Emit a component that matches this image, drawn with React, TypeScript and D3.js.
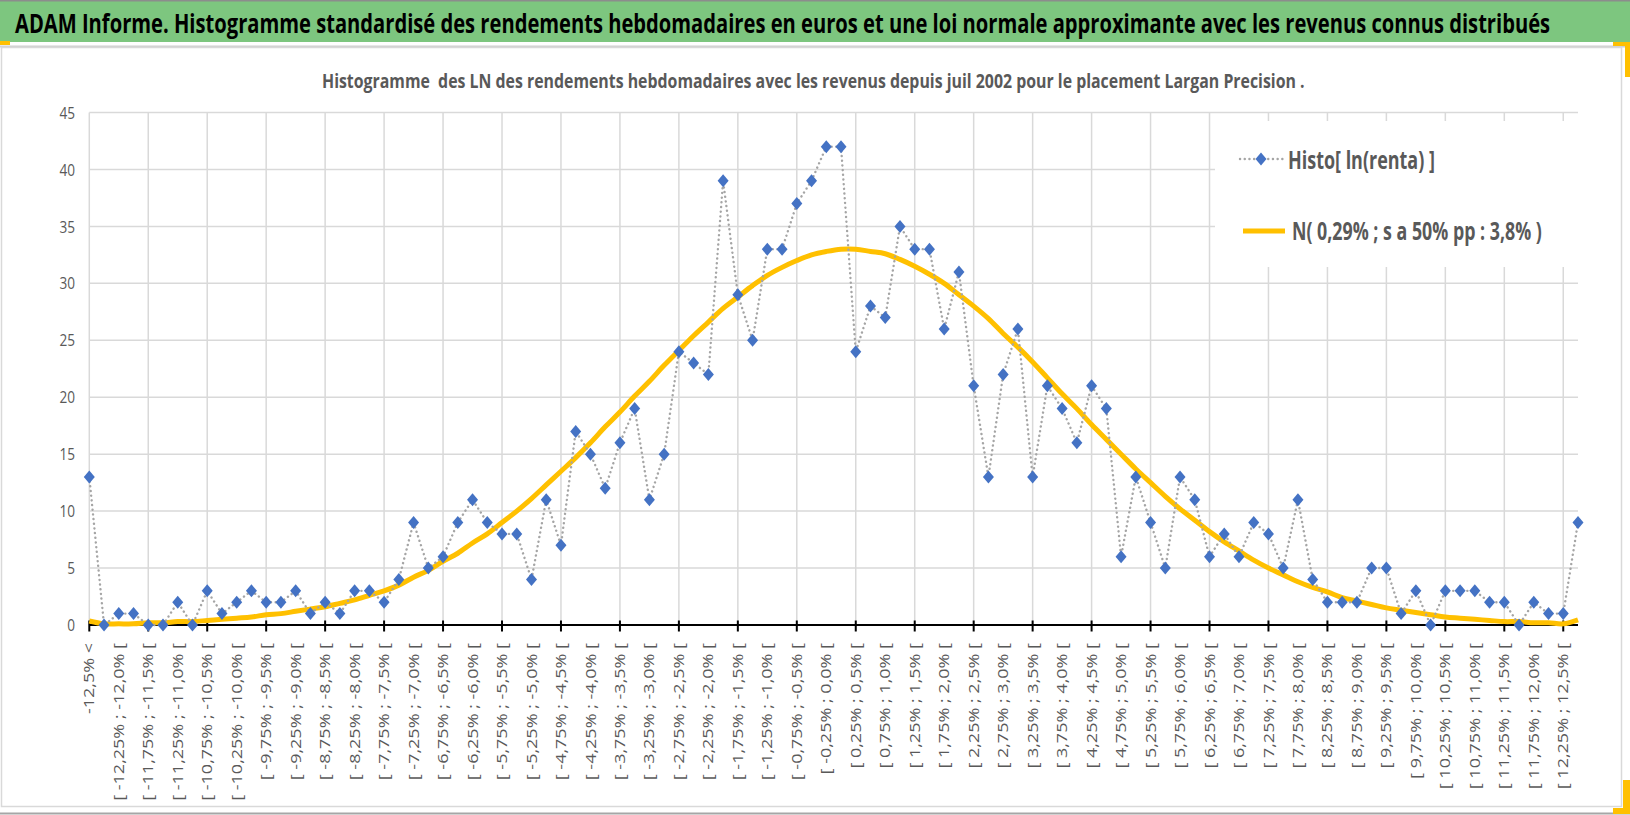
import { useEffect, useRef } from "react";
import * as d3 from "d3";

// categories (classes of weekly log-returns), one every 0,25 %
const categories = [
  "-12,5% <",
  "[ -12,5% ; -12,25% [", "[ -12,25% ; -12,0% [", "[ -12,0% ; -11,75% [", "[ -11,75% ; -11,5% [",
  "[ -11,5% ; -11,25% [", "[ -11,25% ; -11,0% [", "[ -11,0% ; -10,75% [", "[ -10,75% ; -10,5% [",
  "[ -10,5% ; -10,25% [", "[ -10,25% ; -10,0% [", "[ -10,0% ; -9,75% [", "[ -9,75% ; -9,5% [",
  "[ -9,5% ; -9,25% [", "[ -9,25% ; -9,0% [", "[ -9,0% ; -8,75% [", "[ -8,75% ; -8,5% [",
  "[ -8,5% ; -8,25% [", "[ -8,25% ; -8,0% [", "[ -8,0% ; -7,75% [", "[ -7,75% ; -7,5% [",
  "[ -7,5% ; -7,25% [", "[ -7,25% ; -7,0% [", "[ -7,0% ; -6,75% [", "[ -6,75% ; -6,5% [",
  "[ -6,5% ; -6,25% [", "[ -6,25% ; -6,0% [", "[ -6,0% ; -5,75% [", "[ -5,75% ; -5,5% [",
  "[ -5,5% ; -5,25% [", "[ -5,25% ; -5,0% [", "[ -5,0% ; -4,75% [", "[ -4,75% ; -4,5% [",
  "[ -4,5% ; -4,25% [", "[ -4,25% ; -4,0% [", "[ -4,0% ; -3,75% [", "[ -3,75% ; -3,5% [",
  "[ -3,5% ; -3,25% [", "[ -3,25% ; -3,0% [", "[ -3,0% ; -2,75% [", "[ -2,75% ; -2,5% [",
  "[ -2,5% ; -2,25% [", "[ -2,25% ; -2,0% [", "[ -2,0% ; -1,75% [", "[ -1,75% ; -1,5% [",
  "[ -1,5% ; -1,25% [", "[ -1,25% ; -1,0% [", "[ -1,0% ; -0,75% [", "[ -0,75% ; -0,5% [",
  "[ -0,5% ; -0,25% [", "[ -0,25% ; 0,0% [", "[ 0,0% ; 0,25% [", "[ 0,25% ; 0,5% [",
  "[ 0,5% ; 0,75% [", "[ 0,75% ; 1,0% [", "[ 1,0% ; 1,25% [", "[ 1,25% ; 1,5% [",
  "[ 1,5% ; 1,75% [", "[ 1,75% ; 2,0% [", "[ 2,0% ; 2,25% [", "[ 2,25% ; 2,5% [",
  "[ 2,5% ; 2,75% [", "[ 2,75% ; 3,0% [", "[ 3,0% ; 3,25% [", "[ 3,25% ; 3,5% [",
  "[ 3,5% ; 3,75% [", "[ 3,75% ; 4,0% [", "[ 4,0% ; 4,25% [", "[ 4,25% ; 4,5% [",
  "[ 4,5% ; 4,75% [", "[ 4,75% ; 5,0% [", "[ 5,0% ; 5,25% [", "[ 5,25% ; 5,5% [",
  "[ 5,5% ; 5,75% [", "[ 5,75% ; 6,0% [", "[ 6,0% ; 6,25% [", "[ 6,25% ; 6,5% [",
  "[ 6,5% ; 6,75% [", "[ 6,75% ; 7,0% [", "[ 7,0% ; 7,25% [", "[ 7,25% ; 7,5% [",
  "[ 7,5% ; 7,75% [", "[ 7,75% ; 8,0% [", "[ 8,0% ; 8,25% [", "[ 8,25% ; 8,5% [",
  "[ 8,5% ; 8,75% [", "[ 8,75% ; 9,0% [", "[ 9,0% ; 9,25% [", "[ 9,25% ; 9,5% [",
  "[ 9,5% ; 9,75% [", "[ 9,75% ; 10,0% [", "[ 10,0% ; 10,25% [", "[ 10,25% ; 10,5% [",
  "[ 10,5% ; 10,75% [", "[ 10,75% ; 11,0% [", "[ 11,0% ; 11,25% [", "[ 11,25% ; 11,5% [",
  "[ 11,5% ; 11,75% [", "[ 11,75% ; 12,0% [", "[ 12,0% ; 12,25% [", "[ 12,25% ; 12,5% [",
  "12,5% <",
];

// Histo[ ln(renta) ] : counts per class
const histoValues = [
  13, 0, 1, 1, 0, 0, 2, 0, 3, 1,
  2, 3, 2, 2, 3, 1, 2, 1, 3, 3,
  2, 4, 9, 5, 6, 9, 11, 9, 8, 8,
  4, 11, 7, 17, 15, 12, 16, 19, 11, 15,
  24, 23, 22, 39, 29, 25, 33, 33, 37, 39,
  42, 42, 24, 28, 27, 35, 33, 33, 26, 31,
  21, 13, 22, 26, 13, 21, 19, 16, 21, 19,
  6, 13, 9, 5, 13, 11, 6, 8, 6, 9,
  8, 5, 11, 4, 2, 2, 2, 5, 5, 1,
  3, 0, 3, 3, 3, 2, 2, 0, 2, 1,
  1, 9,
];

// N( 0,29% ; 3,8% ) : values
const normalValues = [
  0.35, 0.1, 0.1, 0.1, 0.2, 0.2, 0.3, 0.3, 0.4, 0.5,
  0.6, 0.7, 0.9, 1.0, 1.2, 1.4, 1.6, 1.9, 2.2, 2.6,
  3.0, 3.5, 4.2, 4.8, 5.6, 6.3, 7.2, 8.0, 9.0, 10.0,
  11.1, 12.3, 13.5, 14.7, 16.0, 17.4, 18.7, 20.1, 21.4, 22.8,
  24.1, 25.4, 26.6, 27.8, 28.8, 29.8, 30.7, 31.4, 32.0, 32.5,
  32.8, 33.0, 33.0, 32.8, 32.6, 32.1, 31.5, 30.8, 30.0, 29.0,
  28.0, 26.9, 25.6, 24.4, 23.1, 21.7, 20.3, 19.0, 17.6, 16.3,
  15.0, 13.7, 12.5, 11.3, 10.2, 9.2, 8.2, 7.3, 6.5, 5.7,
  5.0, 4.4, 3.8, 3.3, 2.9, 2.4, 2.1, 1.8, 1.5, 1.3,
  1.1, 0.9, 0.7, 0.6, 0.5, 0.4, 0.3, 0.3, 0.2, 0.2,
  0.1, 0.45,
];

const yTicks = [0, 5, 10, 15, 20, 25, 30, 35, 40, 45];

const title =
  "ADAM Informe. Histogramme standardisé des rendements hebdomadaires en euros et une loi normale approximante avec les revenus connus distribués";
const subtitle =
  "Histogramme  des LN des rendements hebdomadaires avec les revenus depuis juil 2002 pour le placement Largan Precision .";
const legendLabels = ["Histo[ ln(renta) ]", "N( 0,29% ; s a 50% pp : 3,8% )"];

const W = 1630;
const H = 815;
const FONT = "'Open Sans', 'Noto Sans', sans-serif";
const GREY_TEXT = "#595959";
const GRID = "#d9d9d9";
const BLUE = "#4472C4";
const GOLD = "#FFC000";
const DOTS = "#A5A5A5";
const diamond = "M0,-6.5L5.5,0L0,6.5L-5.5,0Z";

type Sel = d3.Selection<SVGSVGElement | SVGGElement, unknown, null, undefined>;

// bold text squeezed horizontally so it spans `len` pixels (the screenshot is narrowed)
const fittedText = (
  parent: Sel,
  str: string,
  x: number,
  y: number,
  len: number,
  size: number,
  fill: string,
) => {
  const t = parent
    .append("text")
    .attr("font-family", FONT)
    .attr("font-weight", 700)
    .attr("font-size", size)
    .attr("fill", fill)
    .attr("xml:space", "preserve")
    .text(str);
  const natural = (t.node() as SVGTextElement).getComputedTextLength() || len;
  t.attr("transform", `translate(${x},${y}) scale(${len / natural},1)`);
};

const App = () => {
  const svgRef = useRef<SVGSVGElement | null>(null);

  useEffect(() => {
    const svg = d3.select(svgRef.current) as unknown as Sel;
    svg.selectAll("*").remove();

    const plot = { left: 89.3, right: 1578, top: 112.5, bottom: 625 };

    const x = d3.scalePoint<string>().domain(categories).range([plot.left, plot.right]);
    const y = d3.scaleLinear().domain([0, 45]).range([plot.bottom, plot.top]);

    // background + frame
    svg.append("rect").attr("width", W).attr("height", H).attr("fill", "white");
    svg.append("rect").attr("x", 0).attr("y", 0).attr("width", W).attr("height", 42).attr("fill", "#7DC67F");
    svg.append("line").attr("x1", 0).attr("x2", W).attr("y1", 0.75).attr("y2", 0.75)
      .attr("stroke", "#8c8c8c").attr("stroke-width", 1.5);
    svg.append("line").attr("x1", 0).attr("x2", W).attr("y1", 46.5).attr("y2", 46.5)
      .attr("stroke", "#d0d0d0").attr("stroke-width", 2);
    svg.append("rect").attr("x", 1.5).attr("y", 47.5).attr("width", 1620).attr("height", 759)
      .attr("fill", "none").attr("stroke", GRID).attr("stroke-width", 1.5);
    svg.append("line").attr("x1", 0).attr("x2", W).attr("y1", 813.5).attr("y2", 813.5)
      .attr("stroke", "#a6a6a6").attr("stroke-width", 2);

    // selection handles (yellow)
    const handles: [number, number, number, number][] = [
      [0, 41, 10, 4], [1613, 42, 17, 4], [1625, 42, 5, 35], [1623, 780, 7, 34], [1613, 808, 17, 6],
    ];
    svg.append("g").selectAll("rect").data(handles).join("rect")
      .attr("x", (d) => d[0]).attr("y", (d) => d[1]).attr("width", (d) => d[2]).attr("height", (d) => d[3])
      .attr("fill", GOLD);

    // titles
    fittedText(svg, title, 15, 33, 1536, 26, "#000");
    fittedText(svg, subtitle, 322, 88, 983, 19, GREY_TEXT);

    // grid
    svg.append("g").selectAll("line").data(yTicks.filter((t) => t > 0)).join("line")
      .attr("x1", plot.left).attr("x2", plot.right)
      .attr("y1", (d) => y(d)).attr("y2", (d) => y(d))
      .attr("stroke", GRID).attr("stroke-width", 1.5);
    const tickCats = categories.filter((_, i) => i % 4 === 0);
    svg.append("g").selectAll("line").data(tickCats).join("line")
      .attr("x1", (d) => x(d) ?? 0).attr("x2", (d) => x(d) ?? 0)
      .attr("y1", plot.top).attr("y2", plot.bottom)
      .attr("stroke", GRID).attr("stroke-width", 1.5);

    // legend box hides the grid behind it
    svg.append("rect").attr("x", 1215).attr("y", 121).attr("width", 366).attr("height", 146).attr("fill", "white");

    // y axis labels
    svg.append("g").selectAll("text").data(yTicks).join("text")
      .attr("transform", (d) => `translate(75,${y(d)}) scale(0.8,1)`)
      .attr("text-anchor", "end").attr("dy", "0.36em")
      .attr("font-family", FONT).attr("font-size", 17).attr("fill", GREY_TEXT)
      .text((d) => d);

    // x axis
    svg.append("line").attr("x1", plot.left).attr("x2", plot.right)
      .attr("y1", plot.bottom).attr("y2", plot.bottom).attr("stroke", "#000").attr("stroke-width", 2.2);
    svg.append("g").selectAll("line").data(tickCats).join("line")
      .attr("x1", (d) => x(d) ?? 0).attr("x2", (d) => x(d) ?? 0)
      .attr("y1", plot.bottom - 4.5).attr("y2", plot.bottom + 6.5)
      .attr("stroke", "#000").attr("stroke-width", 2);
    svg.append("g").selectAll("text").data(categories.filter((_, i) => i % 2 === 0)).join("text")
      .attr("transform", (d) => `translate(${x(d)},643) scale(0.78,1) rotate(-90)`)
      .attr("text-anchor", "end").attr("dy", "0.36em").attr("xml:space", "preserve")
      .attr("font-family", FONT).attr("font-size", 18).attr("fill", GREY_TEXT)
      .text((d) => d);

    // normal curve
    const normalLine = d3.line<number>()
      .x((_, i) => x(categories[i]) ?? 0)
      .y((d) => y(d))
      .curve(d3.curveCatmullRom.alpha(0.5));
    svg.append("path").datum(normalValues).attr("d", normalLine)
      .attr("fill", "none").attr("stroke", GOLD).attr("stroke-width", 5).attr("stroke-linejoin", "round");

    // histogram series: dotted line + diamonds
    const histoLine = d3.line<number>()
      .x((_, i) => x(categories[i]) ?? 0)
      .y((d) => y(d));
    svg.append("path").datum(histoValues).attr("d", histoLine)
      .attr("fill", "none").attr("stroke", DOTS).attr("stroke-width", 2.4)
      .attr("stroke-dasharray", "0.1 4.6").attr("stroke-linecap", "round");
    svg.append("g").selectAll("path").data(histoValues).join("path")
      .attr("d", diamond)
      .attr("transform", (d, i) => `translate(${x(categories[i])},${y(d)})`)
      .attr("fill", BLUE);

    // legend
    const lg = svg.append("g") as unknown as Sel;
    lg.append("line").attr("x1", 1240).attr("x2", 1283).attr("y1", 159).attr("y2", 159)
      .attr("stroke", DOTS).attr("stroke-width", 2.4).attr("stroke-dasharray", "0.1 4.6").attr("stroke-linecap", "round");
    lg.append("path").attr("d", diamond).attr("transform", "translate(1261,159)").attr("fill", BLUE);
    lg.append("line").attr("x1", 1243).attr("x2", 1285).attr("y1", 231).attr("y2", 231)
      .attr("stroke", GOLD).attr("stroke-width", 5);
    const legendPos = [
      { x: 1288, y: 169, len: 147 },
      { x: 1292, y: 240, len: 250 },
    ];
    legendLabels.forEach((label, i) =>
      fittedText(lg, label, legendPos[i].x, legendPos[i].y, legendPos[i].len, 25, GREY_TEXT),
    );
  }, []);

  return (
    <div>
      <style>{"body{margin:0}"}</style>
      <svg ref={svgRef} width={W} height={H} style={{ display: "block" }} />
    </div>
  );
};

export default App;
